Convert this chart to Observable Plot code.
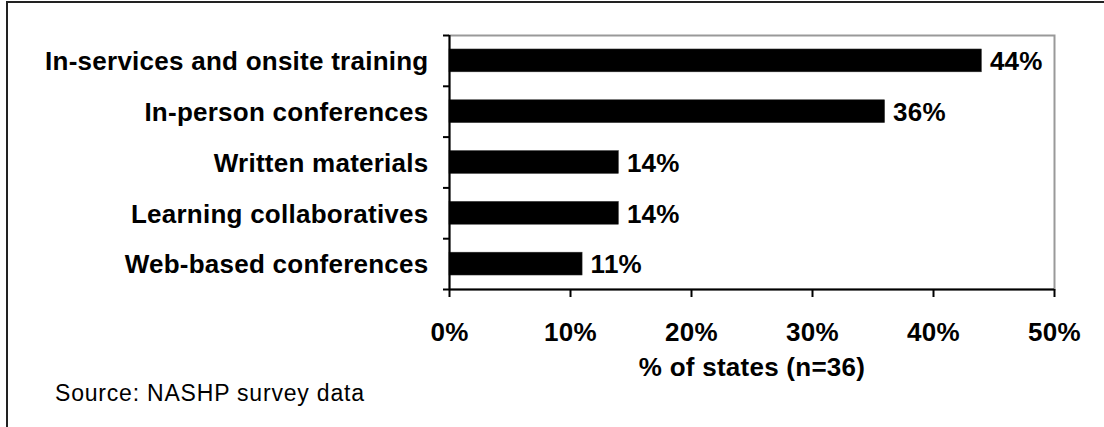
<!DOCTYPE html>
<html>
<head>
<meta charset="utf-8">
<script src="https://cdn.jsdelivr.net/npm/d3@7"></script>
<script src="https://cdn.jsdelivr.net/npm/@observablehq/plot@0.6"></script>
<style>
  html, body { margin: 0; padding: 0; background: #fff; }
  #wrap { position: relative; width: 1104px; height: 427px; overflow: hidden; background: #fff; }
  #border { position: absolute; left: 6px; top: 1px; width: 1110px; height: 440px;
            border-top: 2px solid #222; border-left: 2px solid #222; pointer-events: none; }
  #source { position: absolute; left: 55px; top: 382px; font-family: "Liberation Sans", Arial, sans-serif;
            font-size: 23px; line-height: 23px; letter-spacing: 0.8px; color: #000; white-space: nowrap; }
</style>
</head>
<body>
<div id="wrap">
  <div id="chart"></div>
  <div id="border"></div>
  <div id="source"></div>
</div>
<script>
const categories = [
  "In-services and onsite training",
  "In-person conferences",
  "Written materials",
  "Learning collaboratives",
  "Web-based conferences"
];
const values = [44, 36, 14, 14, 11];
const xTicks = [0, 10, 20, 30, 40, 50];
const axisLabel = "% of states (n=36)";
const sourceText = "Source: NASHP survey data";

const data = categories.map((c, i) => ({category: c, value: values[i], i}));
const bandEdges = d3.range(categories.length + 1);

const chart = Plot.plot({
  width: 1104,
  height: 427,
  marginLeft: 449,
  marginRight: 50,
  marginTop: 35,
  marginBottom: 138,
  style: {
    fontFamily: "'Liberation Sans', Arial, sans-serif",
    fontSize: "26px",
    fontWeight: "bold",
    letterSpacing: "0.25px",
    color: "#000",
    background: "transparent"
  },
  x: {domain: [0, 50]},
  y: {domain: [0, categories.length], reverse: true},
  marks: [
    Plot.frame({stroke: "#999", strokeWidth: 2}),
    Plot.rect(data, {
      x1: () => 0, x2: "value",
      y1: d => d.i + 0.275, y2: d => d.i + 0.725,
      fill: "#000", stroke: "#333", strokeWidth: 0.5
    }),
    Plot.ruleX([0], {stroke: "#000", strokeWidth: 2}),
    Plot.ruleY([categories.length], {stroke: "#000", strokeWidth: 2}),
    Plot.axisY({ticks: bandEdges, tickFormat: () => "", tickSize: 6, strokeWidth: 2, label: null}),
    Plot.axisX({ticks: xTicks, tickFormat: d => d + "%", tickSize: 8, tickPadding: 25,
                strokeWidth: 2, label: null, fontSize: 26}),
    Plot.text(data, {x: () => 0, y: d => d.i + 0.5, text: "category", textAnchor: "end",
                     dx: -21, dy: 1, fontSize: 26}),
    Plot.text(data, {x: "value", y: d => d.i + 0.5, text: d => d.value + "%", textAnchor: "start",
                     dx: 8, dy: 1, fontSize: 26}),
    Plot.text([axisLabel], {frameAnchor: "bottom", text: d => d, dy: 86, fontSize: 26})
  ]
});
document.getElementById("chart").appendChild(chart);
document.getElementById("source").textContent = sourceText;
</script>
</body>
</html>
